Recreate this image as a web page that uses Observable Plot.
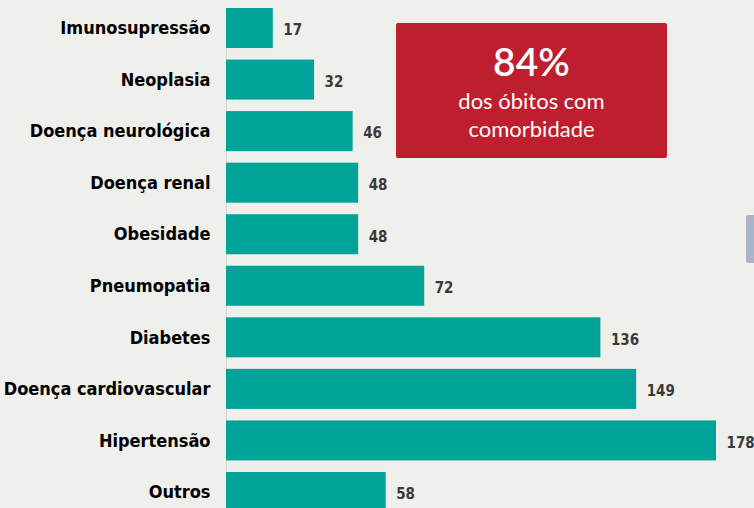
<!DOCTYPE html>
<html><head><meta charset="utf-8">
<script src="https://cdn.jsdelivr.net/npm/d3@7"></script>
<script src="https://cdn.jsdelivr.net/npm/@observablehq/plot@0.6"></script>
<style>
html,body{margin:0;padding:0;width:754px;height:508px;overflow:hidden;background:#efefeb;}
#wrap{position:relative;width:754px;height:508px;overflow:hidden;}
#box{position:absolute;left:396px;top:23px;width:271px;height:135px;background:#be1e2d;border-radius:2px;color:#fff;text-align:center;font-family:Lato,"Open Sans",sans-serif;}
#box .big{font-size:39px;font-weight:600;margin-top:17px;line-height:42px;}
#box .small{font-size:22px;line-height:28px;margin-top:5px;}
#tab{position:absolute;left:746px;top:215px;width:14px;height:48px;background:#a9b4c8;border-radius:3px;}
</style></head>
<body><div id="wrap"><div id="chart"></div><div id="box"><div class="big">84%</div><div class="small">dos óbitos com<br>comorbidade</div></div><div id="tab"></div></div>
<script>
const categories = ["Imunosupressão","Neoplasia","Doença neurológica","Doença renal","Obesidade","Pneumopatia","Diabetes","Doença cardiovascular","Hipertensão","Outros"];
const values = [17,32,46,48,48,72,136,149,178,58];
const data = categories.map((c,i)=>({cat:c, v:values[i]}));
const plot = Plot.plot({
  width: 754, height: 520,
  marginLeft: 226, marginRight: 38, marginTop: 8, marginBottom: 8,
  style: {background: "transparent"},
  x: {domain: [0,178], axis: null},
  y: {domain: categories, paddingInner: 0.224, paddingOuter: 0, round: false, label: null},
  marks: [
    Plot.ruleX([0], {stroke: "#d8d8d4", strokeWidth: 1}),
    Plot.barX(data, {x: "v", y: "cat", fill: "#00a398"}),
    Plot.text(data, {x: "v", y: "cat", text: d => String(d.v), dx: 10, dy: 2, textAnchor: "start", fill: "#3a3a3a", fontWeight: "bold", fontSize: 15, fontFamily: "'DejaVu Sans Condensed',sans-serif"}),
    Plot.axisY({tickSize: 0, tickPadding: 16, fontSize: 18, fontWeight: "bold", fill: "#000", fontFamily: "'DejaVu Sans Condensed',sans-serif", label: null})
  ]
});
document.getElementById("chart").appendChild(plot);
</script></body></html>
